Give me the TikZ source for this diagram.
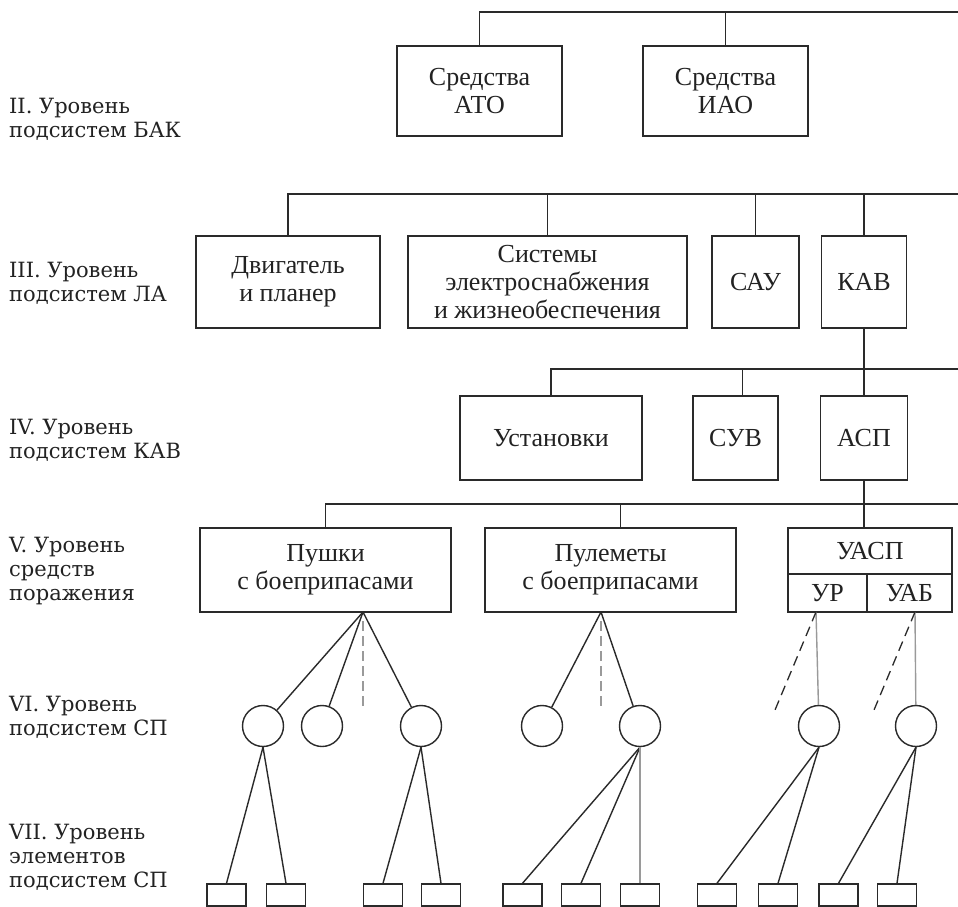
\documentclass[tikz,border=0pt]{standalone}
\usepackage{fontspec}
\setmainfont{Liberation Serif}
\newfontfamily\labfont{DejaVu Serif}
\definecolor{ink}{HTML}{222222}
\definecolor{ln}{HTML}{2A2A2A}
\definecolor{gl}{HTML}{9A9A9A}
\begin{document}
\begin{tikzpicture}[x=1pt,y=-1pt,
  box/.style={draw=ln,line width=1.8pt,rectangle,inner sep=0pt,align=center,text=ink,
    font=\fontsize{26pt}{28pt}\selectfont},
  lab/.style={anchor=west,align=left,inner sep=0pt,text=ink,
    font=\labfont\fontsize{21pt}{24pt}\selectfont},
  conn/.style={draw=ln,line width=1.8pt},
  thin/.style={draw=ln,line width=1.4pt},
  circ/.style={draw=ln,line width=1.4pt,circle,minimum size=41pt,inner sep=0pt},
  sq/.style={draw=ln,line width=1.4pt,rectangle,minimum width=39pt,minimum height=22pt,inner sep=0pt},
  gdash/.style={draw=gl,line width=1.4pt,dash pattern=on 10pt off 5pt},
  ddash/.style={draw=ln,line width=1.3pt,dash pattern=on 10pt off 6pt},
  gline/.style={draw=gl,line width=1.4pt}]
\useasboundingbox (0,0) rectangle (958,907);
\fill[white] (0,0) rectangle (958,907);

% left labels
\node[lab] (L2) at (9,119) {II. Уровень\\подсистем БАК};
\node[lab] (L3) at (9,283) {III. Уровень\\подсистем ЛА};
\node[lab] (L4) at (9,440) {IV. Уровень\\подсистем КАВ};
\node[lab] (L5) at (9,571) {V. Уровень\\средств\\поражения};
\node[lab] (L6) at (9,717) {VI. Уровень\\подсистем СП};
\node[lab] (L7) at (9,857) {VII. Уровень\\элементов\\подсистем СП};

% level II
\node[box,minimum width=165pt,minimum height=90pt] (ato) at (479.5,91) {Средства\\АТО};
\node[box,minimum width=165pt,minimum height=90pt] (iao) at (725.5,91) {Средства\\ИАО};
\coordinate (t0) at (958,12);
\draw[conn] (ato.north) |- (t0);
\draw[conn] (iao.north) -- (iao.north |- t0);

% level III
\node[box,minimum width=184pt,minimum height=92pt] (dvig) at (288,282) {Двигатель\\и планер};
\node[box,minimum width=279pt,minimum height=92pt] (sys) at (547.5,282) {Системы\\электроснабжения\\и жизнеобеспечения};
\node[box,minimum width=87pt,minimum height=92pt] (sau) at (755.5,282) {САУ};
\node[box,minimum width=85pt,minimum height=92pt] (kav) at (864,282) {КАВ};
\coordinate (t1) at (958,194);
\draw[conn] (dvig.north) |- (t1);
\draw[conn] (sys.north) -- (sys.north |- t1);
\draw[conn] (sau.north) -- (sau.north |- t1);
\draw[conn] (kav.north) -- (kav.north |- t1);

% level IV
\node[box,minimum width=182pt,minimum height=84pt] (ust) at (551,438) {Установки};
\node[box,minimum width=85pt,minimum height=84pt] (suv) at (735.5,438) {СУВ};
\node[box,minimum width=87pt,minimum height=84pt] (asp) at (864,438) {АСП};
\coordinate (t2) at (958,369);
\draw[conn] (kav.south) -- (asp.north);
\draw[conn] (ust.north) |- (t2);
\draw[conn] ([xshift=7pt]suv.north) -- ([xshift=7pt]suv.north |- t2);

% level V
\node[box,minimum width=251pt,minimum height=84pt] (push) at (325.5,570) {Пушки\\с боеприпасами};
\node[box,minimum width=251pt,minimum height=84pt] (pul) at (610.5,570) {Пулеметы\\с боеприпасами};
\node[box,minimum width=164pt,minimum height=46pt] (uasp) at (870,551) {УАСП};
\node[box,minimum width=79pt,minimum height=38pt] (ur) at (827.5,593) {УР};
\node[box,minimum width=85pt,minimum height=38pt] (uab) at (909.5,593) {УАБ};
\coordinate (t3) at (958,504);
\draw[conn] (asp.south) -- (asp.south |- uasp.north);
\draw[conn] (push.north) |- (t3);
\draw[conn] ([xshift=10pt]pul.north) -- ([xshift=10pt]pul.north |- t3);

% level VI
\coordinate (pc) at (363,612);
\coordinate (qc) at (601,612);
\coordinate (pd1) at (363,621);
\coordinate (pd2) at (363,709);
\coordinate (qd1) at (601,621);
\coordinate (qd2) at (601,709);
\coordinate (urp) at (816,612);
\coordinate (uabp) at (915,612);
\coordinate (urd) at (775,710);
\coordinate (uabd) at (874,710);
\node[circ] (c1) at (263,726) {};
\node[circ] (c2) at (322,726) {};
\node[circ] (c3) at (421,726) {};
\node[circ] (c4) at (542,726) {};
\node[circ] (c5) at (640,726) {};
\node[circ] (c6) at (819,726) {};
\node[circ] (c7) at (916,726) {};
\draw[thin] (pc) -- (c1);
\draw[thin] (pc) -- (c2);
\draw[thin] (pc) -- (c3);
\draw[gdash] (pd1) -- (pd2);
\draw[thin] (qc) -- (c4);
\draw[thin] (qc) -- (c5);
\draw[gdash] (qd1) -- (qd2);
\draw[gline] (urp) -- (c6);
\draw[ddash] (urp) -- (urd);
\draw[gline] (uabp) -- (c7);
\draw[ddash] (uabp) -- (uabd);

% level VII
\node[sq] (s1) at (226.5,895) {};
\node[sq] (s2) at (286,895) {};
\node[sq] (s3) at (383,895) {};
\node[sq] (s4) at (441,895) {};
\node[sq] (s5) at (522.5,895) {};
\node[sq] (s6) at (581,895) {};
\node[sq] (s7) at (640,895) {};
\node[sq] (s8) at (717,895) {};
\node[sq] (s9) at (778,895) {};
\node[sq] (s10) at (838.5,895) {};
\node[sq] (s11) at (897,895) {};
\draw[thin] (c1.south) -- (s1.north);
\draw[thin] (c1.south) -- (s2.north);
\draw[thin] (c3.south) -- (s3.north);
\draw[thin] (c3.south) -- (s4.north);
\draw[thin] (c5.south) -- (s5.north);
\draw[thin] (c5.south) -- (s6.north);
\draw[gline] (c5.south) -- (s7.north);
\draw[thin] (c6.south) -- (s8.north);
\draw[thin] (c6.south) -- (s9.north);
\draw[thin] (c7.south) -- (s10.north);
\draw[thin] (c7.south) -- (s11.north);
\end{tikzpicture}
\end{document}
